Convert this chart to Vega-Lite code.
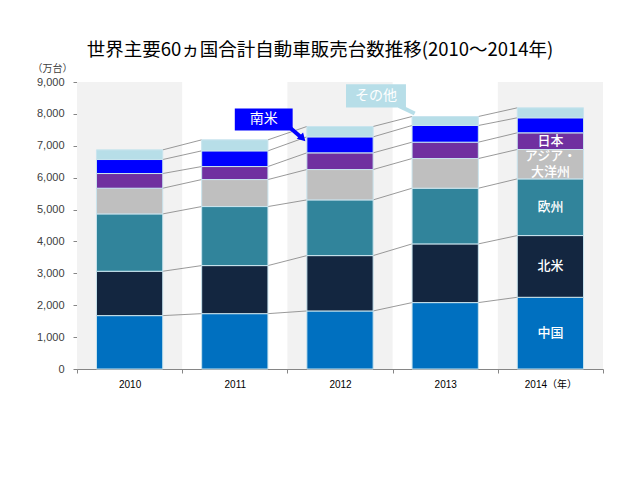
{
  "$schema": "https://vega.github.io/schema/vega-lite/v6.json",
  "autosize": {"type": "none"},
  "padding": {"left": 77, "top": 82, "right": 37, "bottom": 111},
  "width": 526,
  "height": 287,
  "background": "white",
  "config": {
    "view": {"stroke": null},
    "font": "Noto Sans CJK JP",
    "axisY": {"domainColor": "#868686", "tickColor": "#868686", "tickSize": 4, "labelPadding": 9, "labelFont": "Liberation Sans", "labelFontSize": 11, "labelColor": "#404040", "grid": false, "format": ",d", "tickCount": 10, "labelOverlap": false, "labelFlush": false, "titleAngle": 0, "titleX": -25, "titleY": -14, "titleAlign": "center", "titleBaseline": "middle", "titleFont": "Noto Sans CJK JP", "titleFontSize": 10, "titleFontWeight": "normal", "titleColor": "#404040"},
    "axisX": {"domainColor": "#868686", "tickColor": "#868686", "tickSize": 4, "tickBand": "extent", "labelPadding": 6, "labelFont": "Liberation Sans, Noto Sans CJK JP", "labelFontSize": 10, "labelColor": "#000000", "labelAngle": 0, "grid": false, "labelExpr": "datum.value === '2014' ? '2014（年）' : datum.value"}
  },
  "title": {"text": "世界主要60ヵ国合計自動車販売台数推移(2010～2014年)", "fontSize": 18.5, "fontWeight": "normal", "font": "Noto Sans CJK JP", "color": "#000000", "anchor": "middle", "frame": "group", "dx": -20, "offset": 4},
  "datasets": {
    "sales": [
      {"year": "2010", "region": "中国", "order": 1, "value": 1674},
      {"year": "2010", "region": "北米", "order": 2, "value": 1391},
      {"year": "2010", "region": "欧州", "order": 3, "value": 1799},
      {"year": "2010", "region": "アジア・大洋州", "order": 4, "value": 805},
      {"year": "2010", "region": "日本", "order": 5, "value": 461},
      {"year": "2010", "region": "南米", "order": 6, "value": 439},
      {"year": "2010", "region": "その他", "order": 7, "value": 303},
      {"year": "2011", "region": "中国", "order": 1, "value": 1736},
      {"year": "2011", "region": "北米", "order": 2, "value": 1507},
      {"year": "2011", "region": "欧州", "order": 3, "value": 1851},
      {"year": "2011", "region": "アジア・大洋州", "order": 4, "value": 847},
      {"year": "2011", "region": "日本", "order": 5, "value": 408},
      {"year": "2011", "region": "南米", "order": 6, "value": 492},
      {"year": "2011", "region": "その他", "order": 7, "value": 345},
      {"year": "2012", "region": "中国", "order": 1, "value": 1820},
      {"year": "2012", "region": "北米", "order": 2, "value": 1736},
      {"year": "2012", "region": "欧州", "order": 3, "value": 1747},
      {"year": "2012", "region": "アジア・大洋州", "order": 4, "value": 952},
      {"year": "2012", "region": "日本", "order": 5, "value": 523},
      {"year": "2012", "region": "南米", "order": 6, "value": 502},
      {"year": "2012", "region": "その他", "order": 7, "value": 325},
      {"year": "2013", "region": "中国", "order": 1, "value": 2082},
      {"year": "2013", "region": "北米", "order": 2, "value": 1841},
      {"year": "2013", "region": "欧州", "order": 3, "value": 1746},
      {"year": "2013", "region": "アジア・大洋州", "order": 4, "value": 931},
      {"year": "2013", "region": "日本", "order": 5, "value": 513},
      {"year": "2013", "region": "南米", "order": 6, "value": 523},
      {"year": "2013", "region": "その他", "order": 7, "value": 282},
      {"year": "2014", "region": "中国", "order": 1, "value": 2249},
      {"year": "2014", "region": "北米", "order": 2, "value": 1935},
      {"year": "2014", "region": "欧州", "order": 3, "value": 1778},
      {"year": "2014", "region": "アジア・大洋州", "order": 4, "value": 921},
      {"year": "2014", "region": "日本", "order": 5, "value": 523},
      {"year": "2014", "region": "南米", "order": 6, "value": 471},
      {"year": "2014", "region": "その他", "order": 7, "value": 313}
    ]
  },
  "data": {"name": "sales"},
  "layer": [
    {
      "transform": [{"filter": "datum.region === '中国' && (datum.year === '2010' || datum.year === '2012' || datum.year === '2014')"}],
      "mark": {"type": "bar", "color": "#f2f2f2"},
      "encoding": {
        "x": {"field": "year", "type": "ordinal", "title": null, "scale": {"domain": ["2010","2011","2012","2013","2014"], "paddingInner": 0, "paddingOuter": 0}},
        "y": {"datum": 9000, "type": "quantitative", "title": "（万台）", "scale": {"domain": [0, 9000], "nice": false}, "axis": {"format": ",d", "values": [0,1000,2000,3000,4000,5000,6000,7000,8000,9000], "tickCount": 10, "labelOverlap": false}},
        "y2": {"datum": 0}
      }
    },
    {
      "transform": [
        {"stack": "value", "groupby": ["year"], "sort": [{"field": "order"}], "as": ["lo", "hi"]},
        {"window": [{"op": "lead", "field": "hi", "as": "nextHi"}, {"op": "lead", "field": "year", "as": "nextYear"}], "groupby": ["region"], "sort": [{"field": "year"}]},
        {"filter": "datum.nextYear != null"}
      ],
      "mark": {"type": "rule", "color": "#808080", "strokeWidth": 0.8},
      "encoding": {
        "x": {"field": "year", "type": "ordinal", "title": null, "bandPosition": 0.815},
        "x2": {"field": "nextYear", "bandPosition": 0.185},
        "y": {"field": "hi", "type": "quantitative", "title": "（万台）", "axis": {"format": ",d", "values": [0,1000,2000,3000,4000,5000,6000,7000,8000,9000], "tickCount": 10, "labelOverlap": false}},
        "y2": {"field": "nextHi"}
      }
    },
    {
      "transform": [{"stack": "value", "groupby": ["year"], "sort": [{"field": "order"}], "as": ["lo", "hi"]}],
      "mark": {"type": "bar", "width": {"band": 0.63}, "stroke": "#c9e4ee", "strokeWidth": 1},
      "encoding": {
        "x": {"field": "year", "type": "ordinal", "title": null},
        "y": {"field": "lo", "type": "quantitative", "title": "（万台）", "axis": {"format": ",d", "values": [0,1000,2000,3000,4000,5000,6000,7000,8000,9000], "tickCount": 10, "labelOverlap": false}},
        "y2": {"field": "hi"},
        "color": {"field": "region", "type": "nominal", "legend": null, "scale": {"domain": ["中国","北米","欧州","アジア・大洋州","日本","南米","その他"], "range": ["#0070c0","#132640","#31849b","#bfbfbf","#7030a0","#0000ff","#b7dee8"]}}
      }
    },
    {
      "transform": [
        {"stack": "value", "groupby": ["year"], "sort": [{"field": "order"}], "as": ["lo", "hi"]},
        {"filter": "datum.year === '2014' && datum.order <= 5"},
        {"calculate": "datum.region === 'アジア・大洋州' ? (datum.lo + datum.hi) / 2 + 260 : (datum.lo + datum.hi) / 2", "as": "mid"},
        {"calculate": "datum.region === 'アジア・大洋州' ? ['アジア・', '大洋州'] : datum.region", "as": "lbl"}
      ],
      "mark": {"type": "text", "color": "white", "fontSize": 13, "font": "Noto Sans CJK JP", "fontWeight": 500, "lineHeight": 16, "baseline": "middle", "align": "center"},
      "encoding": {
        "x": {"field": "year", "type": "ordinal", "title": null},
        "y": {"field": "mid", "type": "quantitative", "title": "（万台）", "axis": {"format": ",d", "values": [0,1000,2000,3000,4000,5000,6000,7000,8000,9000], "tickCount": 10, "labelOverlap": false}},
        "text": {"field": "lbl"}
      }
    },
    {
      "data": {"values": [{"label": "南米"}]},
      "mark": {"type": "bar", "color": "#0000ff"},
      "encoding": {
        "x": {"datum": "2011", "type": "ordinal", "bandPosition": 0.5, "title": null},
        "x2": {"datum": "2012", "bandPosition": 0.05},
        "y": {"datum": 8170, "type": "quantitative", "title": "（万台）", "axis": {"format": ",d", "values": [0,1000,2000,3000,4000,5000,6000,7000,8000,9000], "tickCount": 10, "labelOverlap": false}},
        "y2": {"datum": 7480}
      }
    },
    {
      "data": {"values": [{"label": "南米"}]},
      "mark": {"type": "rule", "color": "#0000ff", "strokeWidth": 4},
      "encoding": {
        "x": {"datum": "2012", "type": "ordinal", "bandPosition": 0.02, "title": null},
        "x2": {"datum": "2012", "bandPosition": 0.13},
        "y": {"datum": 7580, "type": "quantitative", "title": "（万台）", "axis": {"format": ",d", "values": [0,1000,2000,3000,4000,5000,6000,7000,8000,9000], "tickCount": 10, "labelOverlap": false}},
        "y2": {"datum": 7270}
      }
    },
    {
      "data": {"values": [{"label": "南米"}]},
      "mark": {"type": "point", "shape": "triangle-up", "angle": 135, "filled": true, "color": "#0000ff", "opacity": 1, "size": 80},
      "encoding": {
        "x": {"datum": "2012", "type": "ordinal", "bandPosition": 0.145, "title": null},
        "y": {"datum": 7230, "type": "quantitative", "title": "（万台）", "axis": {"format": ",d", "values": [0,1000,2000,3000,4000,5000,6000,7000,8000,9000], "tickCount": 10, "labelOverlap": false}}
      }
    },
    {
      "data": {"values": [{"label": "南米"}]},
      "mark": {"type": "text", "color": "white", "fontSize": 14, "font": "Noto Sans CJK JP", "baseline": "middle", "align": "center"},
      "encoding": {
        "x": {"datum": "2011", "type": "ordinal", "bandPosition": 0.776, "title": null},
        "y": {"datum": 7825, "type": "quantitative", "title": "（万台）", "axis": {"format": ",d", "values": [0,1000,2000,3000,4000,5000,6000,7000,8000,9000], "tickCount": 10, "labelOverlap": false}},
        "text": {"field": "label"}
      }
    },
    {
      "data": {"values": [{"label": "その他"}]},
      "mark": {"type": "bar", "color": "#b7dee8"},
      "encoding": {
        "x": {"datum": "2012", "type": "ordinal", "bandPosition": 0.557, "title": null},
        "x2": {"datum": "2013", "bandPosition": 0.127},
        "y": {"datum": 8926, "type": "quantitative", "title": "（万台）", "axis": {"format": ",d", "values": [0,1000,2000,3000,4000,5000,6000,7000,8000,9000], "tickCount": 10, "labelOverlap": false}},
        "y2": {"datum": 8204}
      }
    },
    {
      "data": {"values": [{"label": "その他"}]},
      "mark": {"type": "rule", "color": "#b7dee8", "strokeWidth": 4},
      "encoding": {
        "x": {"datum": "2013", "type": "ordinal", "bandPosition": 0.06, "title": null},
        "x2": {"datum": "2013", "bandPosition": 0.21},
        "y": {"datum": 8250, "type": "quantitative", "title": "（万台）", "axis": {"format": ",d", "values": [0,1000,2000,3000,4000,5000,6000,7000,8000,9000], "tickCount": 10, "labelOverlap": false}},
        "y2": {"datum": 8010}
      }
    },
    {
      "data": {"values": [{"label": "その他"}]},
      "mark": {"type": "text", "color": "white", "fontSize": 14, "font": "Noto Sans CJK JP", "baseline": "middle", "align": "center"},
      "encoding": {
        "x": {"datum": "2012", "type": "ordinal", "bandPosition": 0.842, "title": null},
        "y": {"datum": 8565, "type": "quantitative", "title": "（万台）", "axis": {"format": ",d", "values": [0,1000,2000,3000,4000,5000,6000,7000,8000,9000], "tickCount": 10, "labelOverlap": false}},
        "text": {"field": "label"}
      }
    }
  ]
}
